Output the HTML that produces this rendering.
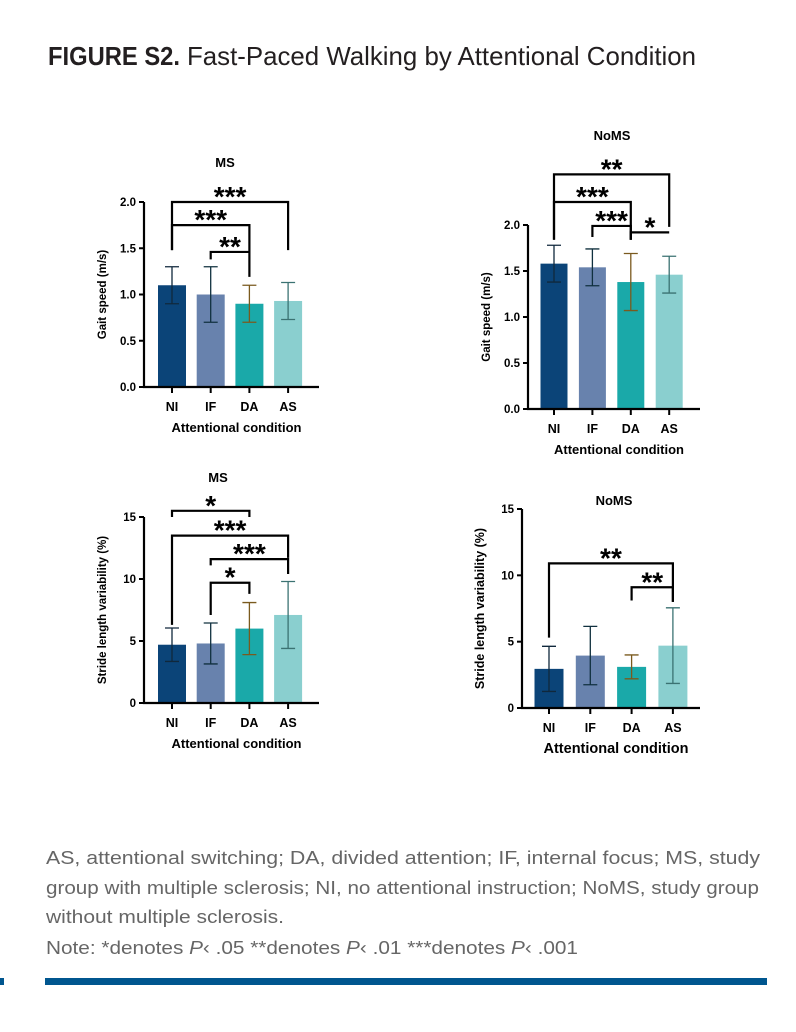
<!DOCTYPE html>
<html><head><meta charset="utf-8"><style>
html,body{margin:0;padding:0;background:#fff;}
svg{display:block;font-family:"Liberation Sans",Arial,sans-serif;}
</style></head><body>
<svg id="root" width="796" height="1032" viewBox="0 0 796 1032">
<text x="48" y="65" font-size="26" font-weight="bold" fill="#231f20" textLength="132" lengthAdjust="spacingAndGlyphs">FIGURE S2.</text>
<text x="187" y="65" font-size="26" fill="#231f20" textLength="509" lengthAdjust="spacingAndGlyphs">Fast-Paced Walking by Attentional Condition</text>
<g fill="#666" font-size="18">
<text x="46" y="864" textLength="714" lengthAdjust="spacingAndGlyphs">AS, attentional switching; DA, divided attention; IF, internal focus; MS, study</text>
<text x="46" y="894" textLength="713" lengthAdjust="spacingAndGlyphs">group with multiple sclerosis; NI, no attentional instruction; NoMS, study group</text>
<text x="46" y="923" textLength="238" lengthAdjust="spacingAndGlyphs">without multiple sclerosis.</text>
<text x="46" y="954" textLength="532" lengthAdjust="spacingAndGlyphs">Note: *denotes <tspan font-style="italic">P</tspan>‹ .05 **denotes <tspan font-style="italic">P</tspan>‹ .01 ***denotes <tspan font-style="italic">P</tspan>‹ .001</text>
</g>
<rect x="45" y="978" width="722" height="7" fill="#00568f"/>
<rect x="0" y="978" width="4" height="7" fill="#00568f"/>
</svg>
<script>
const categories = ["NI","IF","DA","AS"];
const msGaitMean = [1.1, 1.0, 0.9, 0.93];
const msGaitSd = [0.2, 0.3, 0.2, 0.2];
const nomsGaitMean = [1.58, 1.54, 1.38, 1.46];
const nomsGaitSd = [0.2, 0.2, 0.31, 0.2];
const msStrideMean = [4.7, 4.8, 6.0, 7.1];
const msStrideSd = [1.35, 1.65, 2.1, 2.7];
const nomsStrideMean = [2.95, 3.95, 3.1, 4.7];
const nomsStrideSd = [1.7, 2.2, 0.9, 2.85];
const gaitTicks = ["0.0","0.5","1.0","1.5","2.0"];
const strideTicks = ["0","5","10","15"];
const barColors = ["#0b4478","#6882ad","#1aa9a9","#8acfcf"];
const errColors = ["#10283c","#10303f","#7a5a1e","#3b7272"];

const NS="http://www.w3.org/2000/svg";
const root=document.getElementById('root');
function mk(tag,attrs,parent){const e=document.createElementNS(NS,tag);for(const k in attrs)e.setAttribute(k,attrs[k]);(parent||root).appendChild(e);return e;}

function panel(cfg){
  const g=mk('g',{});
  
  
  const yS=v=>cfg.y0-(v/cfg.max)*(cfg.y0-cfg.yTop);
  const xS=i=>cfg.x0+cfg.firstX+i*cfg.step;
  cfg.mean.forEach((m,i)=>{
    const b=mk('rect',{x:xS(i)-cfg.bw/2,y:yS(m),width:cfg.bw,height:cfg.y0-yS(m),fill:barColors[i]},g);
    
    
    const lo=yS(m-cfg.sd[i]),hi=yS(m+cfg.sd[i]),c=errColors[i],x=xS(i);
    const eb=mk('path',{d:`M${x} ${lo}V${hi}M${x-7} ${hi}H${x+7}M${x-7} ${lo}H${x+7}`,stroke:c,'stroke-width':1.3,fill:'none'},g);
    
    
  });
  const ax=mk('path',{d:`M${cfg.x0} ${cfg.yTop}V${cfg.y0}H${cfg.xEnd}`,stroke:'#000','stroke-width':2.2,fill:'none'},g);
  
  
  cfg.ticks.forEach(t=>{
    const y=yS(parseFloat(t));
    mk('line',{x1:cfg.x0-5,x2:cfg.x0,y1:y,y2:y,stroke:'#000','stroke-width':2},g);
    const tl=mk('text',{x:cfg.x0-8,y:y+4,'font-size':11.5,'font-weight':'bold','text-anchor':'end'},g);
    tl.textContent=t;
    
    
  });
  categories.forEach((c,i)=>{
    const x=xS(i);
    mk('line',{x1:x,x2:x,y1:cfg.y0,y2:cfg.y0+6,stroke:'#000','stroke-width':2},g);
    const tl=mk('text',{x:x,y:cfg.y0+24,'font-size':12.5,'font-weight':'bold','text-anchor':'middle'},g);
    tl.textContent=c;
    
    
  });
  const xt=mk('text',{x:(cfg.x0+cfg.xEnd)/2+5,y:cfg.y0+45,'font-size':cfg.xtSize,'font-weight':'bold','text-anchor':'middle'},g);
  xt.textContent='Attentional condition';
  
  
  const ym=(cfg.y0+cfg.yTop)/2;
  const yt=mk('text',{x:cfg.x0-38,y:ym,'font-size':cfg.ytSize,'font-weight':'bold','text-anchor':'middle',transform:`rotate(-90 ${cfg.x0-38} ${ym})`},g);
  yt.textContent=cfg.ytitle;
  
  
  const tt=mk('text',{x:cfg.titleX,y:cfg.titleY,'font-size':13,'font-weight':'bold','text-anchor':'middle'},g);
  tt.textContent=cfg.title;
  
  
  cfg.brackets.forEach(b=>{
    const [i,j,lvl,l,r,s]=b;
    const x1=xS(i),x2=xS(j),y=yS(lvl);
    const p=mk('path',{d:`M${x1} ${yS(l)}V${y}H${x2}V${yS(r)}`,stroke:'#000','stroke-width':2.2,fill:'none'},g);
    
    
    const st=mk('text',{x:(x1+x2)/2,y:y+4,'font-size':28,'font-weight':'bold','text-anchor':'middle'},g);
    st.textContent=s;
    
    
  });
}
panel({name:'ms-gait-chart',x0:144,xEnd:319,y0:387,yTop:202,max:2,firstX:28,step:38.7,bw:28,mean:msGaitMean,sd:msGaitSd,ticks:gaitTicks,ytitle:'Gait speed (m/s)',ytSize:11.5,xtSize:13,title:'MS',titleX:225,titleY:167,
 brackets:[[0,3,2.0,1.48,1.48,'***'],[0,2,1.75,1.48,1.19,'***'],[1,2,1.46,1.38,1.46,'**']]});
panel({name:'noms-gait-chart',x0:528,xEnd:700,y0:409,yTop:225,max:2,firstX:26,step:38.4,bw:27,mean:nomsGaitMean,sd:nomsGaitSd,ticks:gaitTicks,ytitle:'Gait speed (m/s)',ytSize:11.5,xtSize:13,title:'NoMS',titleX:612,titleY:140,
 brackets:[[0,3,2.55,1.84,1.98,'**'],[0,2,2.25,1.84,1.84,'***'],[1,2,1.99,1.87,1.84,'***'],[2,3,1.92,1.84,1.92,'*']]});
panel({name:'ms-stride-chart',x0:144,xEnd:319,y0:703,yTop:517,max:15,firstX:28,step:38.7,bw:28,mean:msStrideMean,sd:msStrideSd,ticks:strideTicks,ytitle:'Stride length variability (%)',ytSize:11.5,xtSize:13,title:'MS',titleX:218,titleY:482,
 brackets:[[0,2,15.5,15.0,15.0,'*'],[0,3,13.5,6.3,11.7,'***'],[1,3,11.6,11.1,10.4,'***'],[1,2,9.7,7.1,8.8,'*']]});
panel({name:'noms-stride-chart',x0:522,xEnd:700,y0:708,yTop:509,max:15,firstX:27,step:41.3,bw:29,mean:nomsStrideMean,sd:nomsStrideSd,ticks:strideTicks,ytitle:'Stride length variability (%)',ytSize:12.5,xtSize:14.5,title:'NoMS',titleX:614,titleY:505,
 brackets:[[0,3,10.9,5.3,8.0,'**'],[2,3,9.1,8.1,8.0,'**']]});
</script>
</body></html>
